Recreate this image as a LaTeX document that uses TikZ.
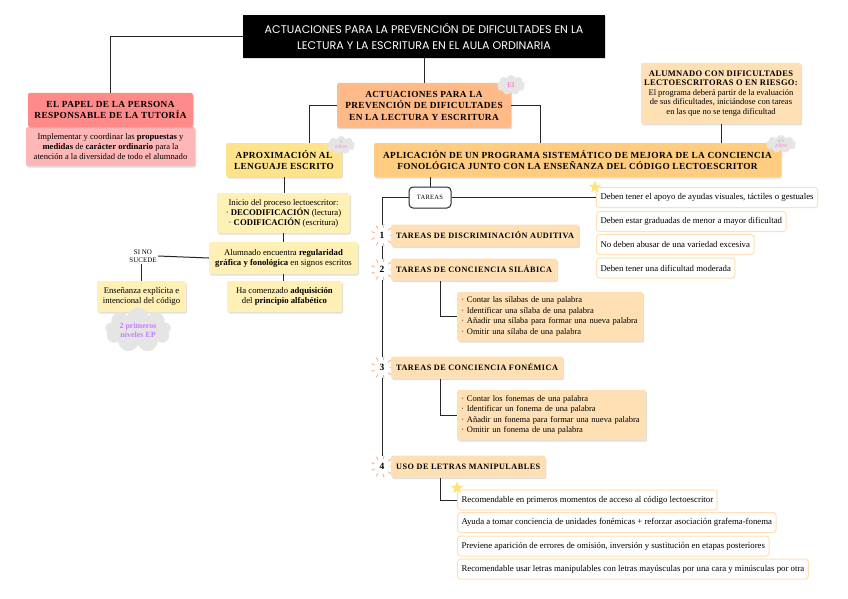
\documentclass[tikz,border=0pt]{standalone}
\usepackage{fontspec}
\setmainfont{Liberation Serif}
\newfontfamily\titlefont{Poppins}
\newfontfamily\headfont[LetterSpace=4]{Liberation Serif}
\newfontfamily\taskfont[LetterSpace=6]{Liberation Serif}
\usetikzlibrary{shapes.geometric,shapes.symbols,shadows}
\definecolor{papelc}{HTML}{FF8A8A}
\definecolor{papeltxtc}{HTML}{FFB6B6}
\definecolor{actuac}{HTML}{FFBA88}
\definecolor{aproxc}{HTML}{FFE38A}
\definecolor{aplicc}{HTML}{FFCC80}
\definecolor{peachc}{HTML}{FFE0B5}
\definecolor{palec}{HTML}{FFF0B5}
\definecolor{burstc}{HTML}{FFB48A}
\definecolor{stary}{HTML}{FFE27A}
\definecolor{pinkc}{HTML}{FF7FD0}
\definecolor{purplec}{HTML}{C77DFF}
\definecolor{linec}{HTML}{262626}
\newcommand{\hd}[1]{{\headfont\bfseries #1}}
\begin{document}
\begin{tikzpicture}[x=1pt,y=-1pt,
  shade/.style={drop shadow={opacity=.25,shadow xshift=1pt,shadow yshift=-1.5pt}},
  plainbox/.style={shade,rounded corners=2pt,inner sep=2pt,align=center},
  headbox/.style={plainbox,font=\headfont\bfseries\fontsize{9.3}{11.5}\selectfont},
  taskbox/.style={plainbox,fill=peachc,anchor=west,inner xsep=5pt,minimum height=22,font=\taskfont\bfseries\fontsize{8.2}{10}\selectfont},
  txtbox/.style={plainbox,font=\fontsize{8.7}{10}\selectfont},
  listbox/.style={draw=peachc,line width=1pt,fill=white,rounded corners=3pt,anchor=west,minimum height=20,inner xsep=4pt,font=\fontsize{8.8}{10}\selectfont},
  link/.style={draw=linec,line width=1pt},
  cloudy/.style={cloud,cloud puffs=9,aspect=1.6,fill=black!10,inner sep=0pt,align=center},
  numb/.style={font=\bfseries\fontsize{9.5}{10}\selectfont,inner sep=0pt,minimum size=20},
  burst/.style={draw=burstc,line width=1pt,line cap=round},
  starmark/.style={star,star points=5,star point ratio=2.3,fill=stary,minimum size=13,inner sep=0pt}
]
\path[use as bounding box,fill=white] (0,0) rectangle (848,599);

\node[fill=black,text=white,shade,align=center,minimum width=362,minimum height=43,font=\titlefont\fontsize{11.1}{16}\selectfont] (title) at (424,36.5) {ACTUACIONES PARA LA PREVENCIÓN DE DIFICULTADES EN LA\\LECTURA Y LA ESCRITURA EN EL AULA ORDINARIA};

\node[txtbox,fill=papeltxtc,minimum width=169,minimum height=39,font=\fontsize{8.6}{10}\selectfont] (papeltxt) at (110.5,146.5) {Implementar y coordinar las \textbf{propuestas} y\\\textbf{medidas} de \textbf{carácter ordinario} para la\\atención a la diversidad de todo el alumnado};
\node[headbox,fill=papelc,minimum width=165,minimum height=34] (papel) at (110.5,110) {EL PAPEL DE LA PERSONA\\RESPONSABLE DE LA TUTORÍA};

\node[headbox,fill=actuac,minimum width=174,minimum height=45] (actua) at (424,105.5) {ACTUACIONES PARA LA\\PREVENCIÓN DE DIFICULTADES\\EN LA LECTURA Y ESCRITURA};
\node[headbox,fill=aproxc,minimum width=116,minimum height=34] (aprox) at (284,160) {APROXIMACIÓN AL\\LENGUAJE ESCRITO};
\node[headbox,fill=aplicc,minimum width=407,minimum height=34] (aplic) at (577.5,160) {APLICACIÓN DE UN PROGRAMA SISTEMÁTICO DE MEJORA DE LA CONCIENCIA\\FONOLÓGICA JUNTO CON LA ENSEÑANZA DEL CÓDIGO LECTOESCRITOR};
\node[txtbox,fill=peachc,minimum width=160,minimum height=61,inner xsep=1pt,font=\fontsize{8.5}{9.6}\selectfont] (alum) at (721,93.5) {\hd{ALUMNADO CON DIFICULTADES}\\\hd{LECTOESCRITORAS O EN RIESGO:}\\El programa deberá partir de la evaluación\\de sus dificultades, iniciándose con tareas\\en las que no se tenga dificultad};

\node[draw=linec,line width=1pt,fill=white,rounded corners=4pt,minimum width=42,minimum height=21,inner sep=1pt,font=\headfont\fontsize{6.5}{6.5}\selectfont] (tareas) at (430,197.5) {TAREAS};
\node[listbox] (r1) at (596,197.5) {Deben tener el apoyo de ayudas visuales, táctiles o gestuales};
\node[listbox] (r2) at (596,221.5) {Deben estar graduadas de menor a mayor dificultad};
\node[listbox] (r3) at (596,244.5) {No deben abusar de una variedad excesiva};
\node[listbox] (r4) at (596,268) {Deben tener una dificultad moderada};
\node[starmark] (star1) at (595,187) {};

\foreach \n/\y in {1/235.5,2/269.5,3/367.5,4/466.5}{
  \foreach \a in {0,40,...,320} \draw[burst] (382,\y) ++(\a:8) -- ++(\a:3);
  \node[numb] (n\n) at (382,\y) {\n};
}
\node[taskbox] (t1) at (391,235.5) {TAREAS DE DISCRIMINACIÓN AUDITIVA};
\node[taskbox] (t2) at (391,269.5) {TAREAS DE CONCIENCIA SILÁBICA};
\node[taskbox] (t3) at (391,367.5) {TAREAS DE CONCIENCIA FONÉMICA};
\node[taskbox] (t4) at (391,466.5) {USO DE LETRAS MANIPULABLES};

\node[txtbox,fill=peachc,anchor=west,minimum width=186,minimum height=49,align=left,text width=178,font=\fontsize{8.5}{10.5}\selectfont] (s2) at (457,316.5) {· Contar las sílabas de una palabra\\· Identificar una sílaba de una palabra\\· Añadir una sílaba para formar una nueva palabra\\· Omitir una sílaba de una palabra};
\node[txtbox,fill=peachc,anchor=west,minimum width=189,minimum height=50,align=left,text width=181,font=\fontsize{8.5}{10.5}\selectfont] (s3) at (457,415) {· Contar los fonemas de una palabra\\· Identificar un fonema de una palabra\\· Añadir un fonema para formar una nueva palabra\\· Omitir un fonema de una palabra};

\node[listbox] (u1) at (457,500) {Recomendable en primeros momentos de acceso al código lectoescritor};
\node[listbox] (u2) at (457,522.5) {Ayuda a tomar conciencia de unidades fonémicas + reforzar asociación grafema-fonema};
\node[listbox] (u3) at (457,546) {Previene aparición de errores de omisión, inversión y sustitución en etapas posteriores};
\node[listbox] (u4) at (457,569) {Recomendable usar letras manipulables con letras mayúsculas por una cara y minúsculas por otra};
\node[starmark] (star2) at (457,488) {};

\node[txtbox,fill=palec,minimum width=133,minimum height=40] (inicio) at (283.5,213) {Inicio del proceso lectoescritor:\\· \textbf{DECODIFICACIÓN} (lectura)\\· \textbf{CODIFICACIÓN} (escritura)};
\node[txtbox,fill=palec,minimum width=149,minimum height=32] (encuentra) at (283.5,258) {Alumnado encuentra \textbf{regularidad}\\\textbf{gráfica y fonológica} en signos escritos};
\node[txtbox,fill=palec,minimum width=115,minimum height=31] (alfab) at (284.5,296.5) {Ha comenzado \textbf{adquisición}\\del \textbf{principio alfabético}};
\node[align=center,inner sep=1pt,font=\fontsize{7}{8}\selectfont] (sino) at (143,256) {SI NO\\SUCEDE};
\node[txtbox,fill=palec,minimum width=89,minimum height=31] (explic) at (141.5,296.5) {Enseñanza explícita e\\intencional del código};
\node[cloudy,minimum width=66,minimum height=38,text=purplec,font=\bfseries\fontsize{8}{9}\selectfont] (nivEP) at (138,330) {2 primeros\\niveles EP};

\node[cloudy,minimum width=28,minimum height=20,text=pinkc,font=\bfseries\fontsize{7}{7}\selectfont] (cEI) at (511,85) {EI};
\node[cloudy,minimum width=28,minimum height=18,text=pinkc,font=\fontsize{4.5}{5}\selectfont] (c3) at (341,145) {3\\AÑOS};
\node[cloudy,minimum width=30,minimum height=18,text=pinkc,font=\fontsize{4.5}{5}\selectfont] (c45) at (781,144) {4-5\\AÑOS};

\draw[link] (title.west) -| (papel.north);
\draw[link] (title.south) -- (actua.north);
\draw[link] (actua.west) -| ([xshift=25]aprox.north);
\draw[link] (actua.east) -| ([xshift=-37.5]aplic.north);
\draw[link] (alum.south) -- (alum.south |- aplic.north);
\draw[link] (tareas.north |- aplic.south) -- (tareas.north);
\draw[link] (tareas.west) -| (n1.north);
\draw[link] (n1.south) -- (n2.north);
\draw[link] (n2.south) -- (n3.north);
\draw[link] (n3.south) -- (n4.north);
\draw[link] (tareas.east) -- (r1.west);
\draw[link] (t2.south west) ++(49,0) |- (s2.west);
\draw[link] (t3.south west) ++(49,0) |- (s3.west);
\draw[link] (t4.south west) ++(49,0) |- (u1.west);
\draw[link] (aprox.south) -- (aprox.south |- inicio.north);
\draw[link] (inicio.south) -- (inicio.south |- encuentra.north);
\draw[link] (encuentra.south) -- (encuentra.south |- alfab.north);
\draw[link] (encuentra.west) -- (sino.east);
\draw[link] (explic.north |- sino.south) -- (explic.north);
\end{tikzpicture}
\end{document}
